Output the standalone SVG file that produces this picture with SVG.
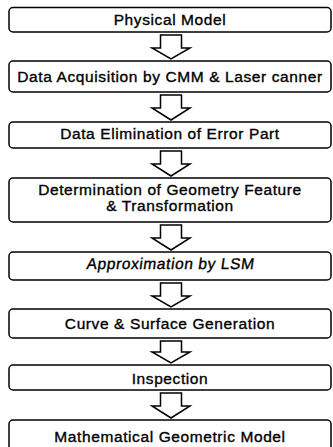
<svg xmlns="http://www.w3.org/2000/svg" width="333" height="447" viewBox="0 0 333 447">
<style>
.box{fill:#fff;stroke:#000;stroke-width:1.5}
.arr{fill:#fff;stroke:#000;stroke-width:1.5;stroke-linejoin:miter}
text{font-family:"Liberation Sans",Arial,sans-serif;font-size:15.5px;letter-spacing:0.6px;text-anchor:middle;fill:#000;stroke:#000;stroke-width:0.35}
</style>
<rect width="333" height="447" fill="#fff"/>
<g id="connectors">
<path class="arr" d="M160.5,35 H181.5 V48 H190 L171,59 L152,48 H160.5 Z"/>
<path class="arr" d="M160.5,95 H181.5 V108 H190 L171,120 L152,108 H160.5 Z"/>
<path class="arr" d="M160.5,151 H181.5 V164 H190 L171,176 L152,164 H160.5 Z"/>
<path class="arr" d="M160.5,225 H181.5 V238 H190 L171,250 L152,238 H160.5 Z"/>
<path class="arr" d="M160.5,283 H181.5 V296 H190 L171,307 L152,296 H160.5 Z"/>
<path class="arr" d="M160.5,341 H181.5 V352 H190 L171,363 L152,352 H160.5 Z"/>
<path class="arr" d="M160.5,393 H181.5 V406 H190 L171,418 L152,406 H160.5 Z"/>
</g>
<g id="n1"><rect class="box" x="9" y="7.5" width="322" height="24.5" rx="4"/><text x="170" y="25">Physical Model</text></g>
<g id="n2"><rect class="box" x="9" y="61" width="322" height="31" rx="4"/><text x="170" y="82">Data Acquisition by CMM &amp; Laser canner</text></g>
<g id="n3"><rect class="box" x="9" y="122" width="322" height="26" rx="4"/><text x="170" y="139">Data Elimination of Error Part</text></g>
<g id="n4"><rect class="box" x="9" y="178" width="322" height="44" rx="4"/><text x="170" y="195">Determination of Geometry Feature</text><text x="170" y="211">&amp; Transformation</text></g>
<g id="n5"><rect class="box" x="9" y="252" width="322" height="28" rx="4"/><text transform="translate(170,269) skewX(-8)" x="0" y="0">Approximation by LSM</text></g>
<g id="n6"><rect class="box" x="9" y="309" width="322" height="29" rx="4"/><text x="170" y="329">Curve &amp; Surface Generation</text></g>
<g id="n7"><rect class="box" x="9" y="365" width="322" height="25" rx="4"/><text x="170" y="384">Inspection</text></g>
<g id="n8"><rect class="box" x="9" y="420" width="322" height="40" rx="4"/><text x="170" y="442">Mathematical Geometric Model</text></g>
</svg>
